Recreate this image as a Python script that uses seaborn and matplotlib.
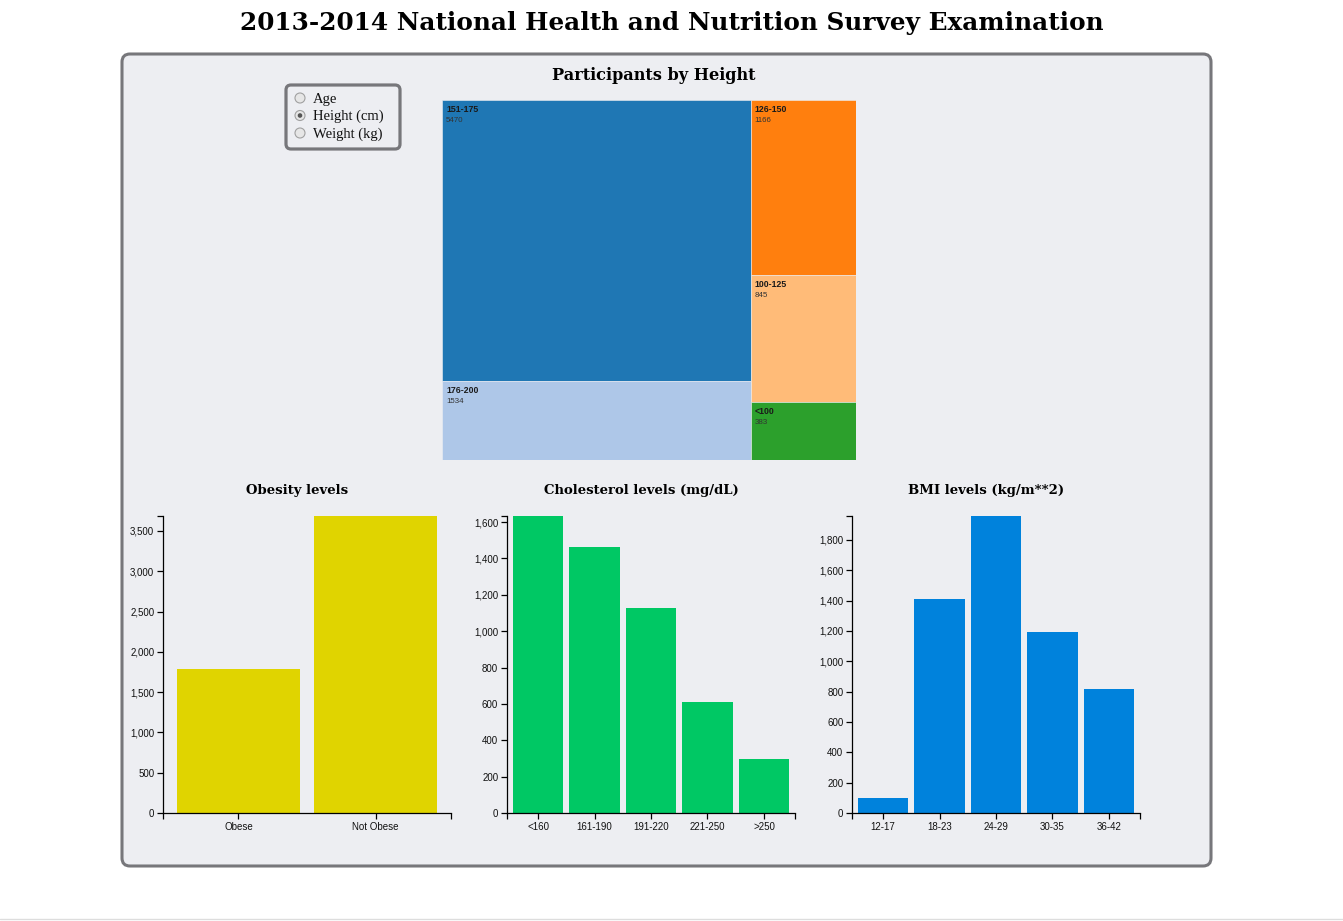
import matplotlib.pyplot as plt
from matplotlib.patches import FancyBboxPatch, Circle
from matplotlib.ticker import FuncFormatter, MultipleLocator
import seaborn as sns

# Data
height_groups = ['151-175', '176-200', '126-150', '100-125', '<100']
height_counts = [5470, 1534, 1166, 845, 383]
height_colors = ['#1f77b4', '#aec7e8', '#ff7f0e', '#ffbb78', '#2ca02c']

obesity_labels = ['Obese', 'Not Obese']
obesity_counts = [1787, 3686]

chol_labels = ['<160', '161-190', '191-220', '221-250', '>250']
chol_counts = [1633, 1462, 1127, 610, 297]

bmi_labels = ['12-17', '18-23', '24-29', '30-35', '36-42']
bmi_counts = [99, 1411, 1958, 1193, 818]

radio_options = ['Age', 'Height (cm)', 'Weight (kg)']
radio_selected = 'Height (cm)'

W, H = 1343, 921
sns.set_style('ticks')
plt.rcParams['font.family'] = ['Liberation Sans', 'DejaVu Sans']
plt.rcParams['text.color'] = 'black'
SERIF = ['DejaVu Serif']
PANEL = '#edeef2'

fig = plt.figure(figsize=(W / 100, H / 100), dpi=100)
fig.patch.set_facecolor('white')


def px_axes(x0, y0, x1, y1):
    # axes placed by pixel box (top-left origin)
    return fig.add_axes([x0 / W, 1 - y1 / H, (x1 - x0) / W, (y1 - y0) / H])


# page background, panel, titles
bg = px_axes(0, 0, W, H)
bg.set_xlim(0, W)
bg.set_ylim(H, 0)
bg.axis('off')
bg.add_patch(FancyBboxPatch((122, 54), 1089, 812,
                            boxstyle='round,pad=0,rounding_size=8',
                            fc=PANEL, ec='#77777b', lw=2.2))
bg.plot([0, W], [919, 919], color='#dddddd', lw=1)
bg.text(672, 23, '2013-2014 National Health and Nutrition Survey Examination',
        ha='center', va='center', family=SERIF, fontweight='bold', fontsize=17.8)
bg.text(654, 76, 'Participants by Height', ha='center', va='center',
        family=SERIF, fontweight='bold', fontsize=11.6)

# radio box
bg.add_patch(FancyBboxPatch((286, 85), 114, 64,
                            boxstyle='round,pad=0,rounding_size=5',
                            fc='none', ec='#77777b', lw=2.3))
for i, opt in enumerate(radio_options):
    cy = 98 + i * 17.5
    bg.add_patch(Circle((300, cy), 5, fc='#e6e6e6', ec='#a0a0a0', lw=0.8))
    if opt == radio_selected:
        bg.add_patch(Circle((300, cy), 2.3, fc='#555555', ec='none'))
    bg.text(313, cy + 1, opt, ha='left', va='center',
            family=['Liberation Serif'], fontsize=10.5, color='#111111')

# treemap: left column holds the two largest groups, right column the rest
tm = px_axes(442, 100, 856, 460)
tm.set_xlim(0, 1)
tm.set_ylim(1, 0)
tm.axis('off')
total = sum(height_counts)
columns = [range(0, 2), range(2, 5)]
x0 = 0.0
for col in columns:
    col_sum = sum(height_counts[i] for i in col)
    w = col_sum / total
    y0 = 0.0
    for i in col:
        h = height_counts[i] / col_sum
        tm.bar(x0, h, width=w, bottom=y0, align='edge',
               color=height_colors[i], edgecolor=PANEL, linewidth=0.4)
        tm.text(x0 + 4 / 414, y0 + 9 / 360, height_groups[i], fontsize=6.3,
                fontweight='bold', color='#1a1a1a', va='center')
        tm.text(x0 + 4 / 414, y0 + 20 / 360, str(height_counts[i]), fontsize=5.7,
                color='#333333', va='center')
        y0 += h
    x0 += w

# bar charts (band scale with 0.1 inner and outer padding)
comma = FuncFormatter(lambda v, p: f'{int(v):,}')
charts = [
    (163, obesity_labels, obesity_counts, '#e0d400', 500,
     'Obesity levels', 297),
    (507, chol_labels, chol_counts, '#00c864', 200,
     'Cholesterol levels (mg/dL)', 641),
    (852, bmi_labels, bmi_counts, '#0082dc', 200,
     'BMI levels (kg/m**2)', 986),
]
for left, labels, counts, color, step, title, tx in charts:
    ax = px_axes(left, 516, left + 288, 813)
    ax.set_facecolor('none')
    sns.barplot(x=labels, y=counts, color=color, saturation=1, width=0.9,
                linewidth=0, ax=ax)
    lo, hi = -0.55, len(labels) - 0.45
    ax.set_xlim(lo, hi)
    ax.set_ylim(0, max(counts))
    ax.yaxis.set_major_locator(MultipleLocator(step))
    ax.yaxis.set_major_formatter(comma)
    ax.set_xticks([lo, hi], minor=True)
    ax.set_yticks([max(counts)], minor=True)
    ax.tick_params(which='both', direction='out', length=4.3, width=0.9,
                   color='black', labelsize=7, pad=2, labelcolor='#111111',
                   bottom=True, left=True)
    ax.tick_params(which='minor', labelleft=False, labelbottom=False)
    for side in ['top', 'right']:
        ax.spines[side].set_visible(False)
    for side in ['left', 'bottom']:
        ax.spines[side].set_color('black')
        ax.spines[side].set_linewidth(0.9)
    bg.text(tx, 490, title, ha='center', va='center', family=SERIF,
            fontweight='bold', fontsize=9.5)

fig.savefig('out.png', dpi=100)
